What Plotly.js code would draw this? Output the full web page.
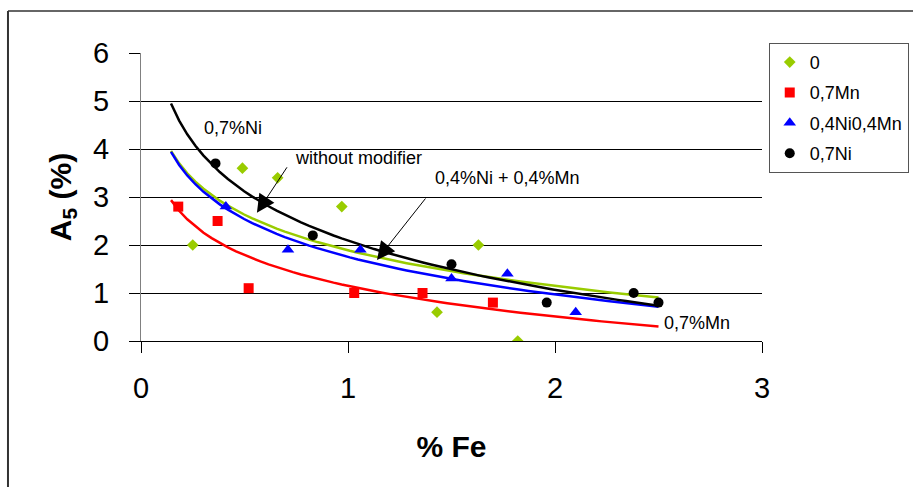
<!DOCTYPE html>
<html>
<head>
<meta charset="utf-8">
<script src="https://cdn.plot.ly/plotly-3.0.1.min.js"></script>
<style>
  html, body { margin: 0; padding: 0; background: #fff; }
  #chart { width: 913px; height: 487px; }
</style>
</head>
<body>
<div id="chart"></div>
<script>
// ---- data ----
var seriesNames = ["0", "0,7Mn", "0,4Ni0,4Mn", "0,7Ni"];

var fe_0    = [0.25, 0.49, 0.66, 0.97, 1.43, 1.63, 1.82];
var a5_0    = [2.0, 3.6, 3.4, 2.8, 0.6, 2.0, 0.0];

var fe_Mn   = [0.18, 0.37, 0.52, 1.03, 1.36, 1.70];
var a5_Mn   = [2.8, 2.5, 1.1, 1.0, 1.0, 0.8];

var fe_NiMn = [0.41, 0.71, 1.06, 1.50, 1.77, 2.10];
var a5_NiMn = [2.8, 1.9, 1.9, 1.3, 1.4, 0.6];

var fe_Ni   = [0.36, 0.83, 1.50, 1.96, 2.38, 2.50];
var a5_Ni   = [3.7, 2.2, 1.6, 0.8, 1.0, 0.8];

var xTicks = [0, 1, 2, 3];
var yTicks = [0, 1, 2, 3, 4, 5, 6];

// trendline span (logarithmic trendlines, as in the original spreadsheet chart)
var trendFrom = 0.145, trendTo = 2.5;

// ---- logarithmic least-squares trendline: y = a + b ln(x) ----
function logTrend(xs, ys) {
  var n = xs.length, sx = 0, sy = 0, sxx = 0, sxy = 0;
  for (var i = 0; i < n; i++) {
    var l = Math.log(xs[i]);
    sx += l; sy += ys[i]; sxx += l * l; sxy += l * ys[i];
  }
  var b = (n * sxy - sx * sy) / (n * sxx - sx * sx);
  var a = (sy - b * sx) / n;
  var tx = [], ty = [];
  var steps = 60;
  for (var k = 0; k <= steps; k++) {
    var x = trendFrom + (trendTo - trendFrom) * k / steps;
    tx.push(x); ty.push(a + b * Math.log(x));
  }
  return {x: tx, y: ty};
}

var colors = ["#99CC00", "#FF0000", "#0000FF", "#000000"];
var symbols = ["diamond", "square", "triangle-up", "circle"];
var sizes = [9, 10, 11, 10];
var xsAll = [fe_0, fe_Mn, fe_NiMn, fe_Ni];
var ysAll = [a5_0, a5_Mn, a5_NiMn, a5_Ni];

var traces = [];
for (var s = 0; s < 4; s++) {
  var t = logTrend(xsAll[s], ysAll[s]);
  traces.push({
    x: t.x, y: t.y, type: "scatter", mode: "lines",
    line: {color: colors[s], width: 2.5},
    showlegend: false, hoverinfo: "skip"
  });
}
for (var s2 = 0; s2 < 4; s2++) {
  traces.push({
    x: xsAll[s2], y: ysAll[s2], type: "scatter", mode: "markers",
    name: seriesNames[s2], legendgroup: "g" + s2,
    marker: {color: colors[s2], symbol: symbols[s2], size: sizes[s2], line: {width: 0}}
  });
}

var F = "Arial, 'Liberation Sans', sans-serif";

var layout = {
  width: 913, height: 487,
  margin: {l: 141, r: 151, t: 53, b: 146, autoexpand: false},
  paper_bgcolor: "#fff", plot_bgcolor: "#fff",
  font: {family: F, color: "#000"},
  xaxis: {
    range: [0, 3], tickvals: xTicks, ticktext: xTicks.map(String),
    ticks: "outside", ticklen: 11, tickcolor: "#000", tickwidth: 1,
    showline: true, linecolor: "#000", linewidth: 1,
    showgrid: false, zeroline: false, automargin: false,
    tickfont: {size: 29, family: F}, ticklabelstandoff: 10,
    title: {text: "<b>% Fe</b>", font: {size: 30, family: F}, standoff: 33}
  },
  yaxis: {
    range: [0, 6], tickvals: yTicks, ticktext: yTicks.map(String),
    ticks: "outside", ticklen: 11, tickcolor: "#000", tickwidth: 1,
    showline: true, linecolor: "#808080", linewidth: 1,
    showgrid: true, gridcolor: "#000", gridwidth: 1, zeroline: false, automargin: false,
    tickfont: {size: 29, family: F}, ticklabelstandoff: 14,
    title: {text: "<b>A<sub>5</sub> (%)</b>", font: {size: 30, family: F}, standoff: 12}
  },
  showlegend: true,
  legend: {
    xref: "container", yref: "container",
    x: 0.842, y: 0.912, xanchor: "left", yanchor: "top",
    bordercolor: "#555", borderwidth: 1, bgcolor: "#fff",
    font: {size: 18, family: F}, traceorder: "grouped", tracegroupgap: 4
  },
  annotations: [
    {x: 0.295, y: 4.44, xref: "x", yref: "y", text: "0,7%Ni", showarrow: false,
     xanchor: "left", yanchor: "middle", font: {size: 18, family: F}},
    {x: 0.734, y: 3.81, xref: "x", yref: "y", text: "without modifier", showarrow: false,
     xanchor: "left", yanchor: "middle", font: {size: 18, family: F}},
    {x: 0.56, y: 2.67, xref: "x", yref: "y", ax: 0.71, ay: 3.65, axref: "x", ayref: "y",
     text: "", showarrow: true, arrowhead: 2, arrowsize: 3.6, arrowwidth: 1, arrowcolor: "#000", standoff: 0},
    {x: 1.41, y: 3.40, xref: "x", yref: "y", text: "0,4%Ni + 0,4%Mn", showarrow: false,
     xanchor: "left", yanchor: "middle", font: {size: 18, family: F}},
    {x: 1.14, y: 1.69, xref: "x", yref: "y", ax: 1.38, ay: 3.0, axref: "x", ayref: "y",
     text: "", showarrow: true, arrowhead: 2, arrowsize: 3.6, arrowwidth: 1, arrowcolor: "#000", standoff: 0},
    {x: 2.517, y: 0.375, xref: "x", yref: "y", text: "0,7%Mn", showarrow: false,
     xanchor: "left", yanchor: "middle", font: {size: 18, family: F}}
  ],
  shapes: [
    {type: "line", xref: "paper", yref: "paper", x0: -0.2142, x1: -0.2142, y0: -0.52, y1: 1.146,
     line: {color: "#333", width: 2}},
    {type: "line", xref: "paper", yref: "paper", x0: -0.2142, x1: 1.26, y0: 1.146, y1: 1.146,
     line: {color: "#333", width: 1.5}}
  ]
};

Plotly.newPlot("chart", traces, layout, {displayModeBar: false, staticPlot: true});
</script>
</body>
</html>
